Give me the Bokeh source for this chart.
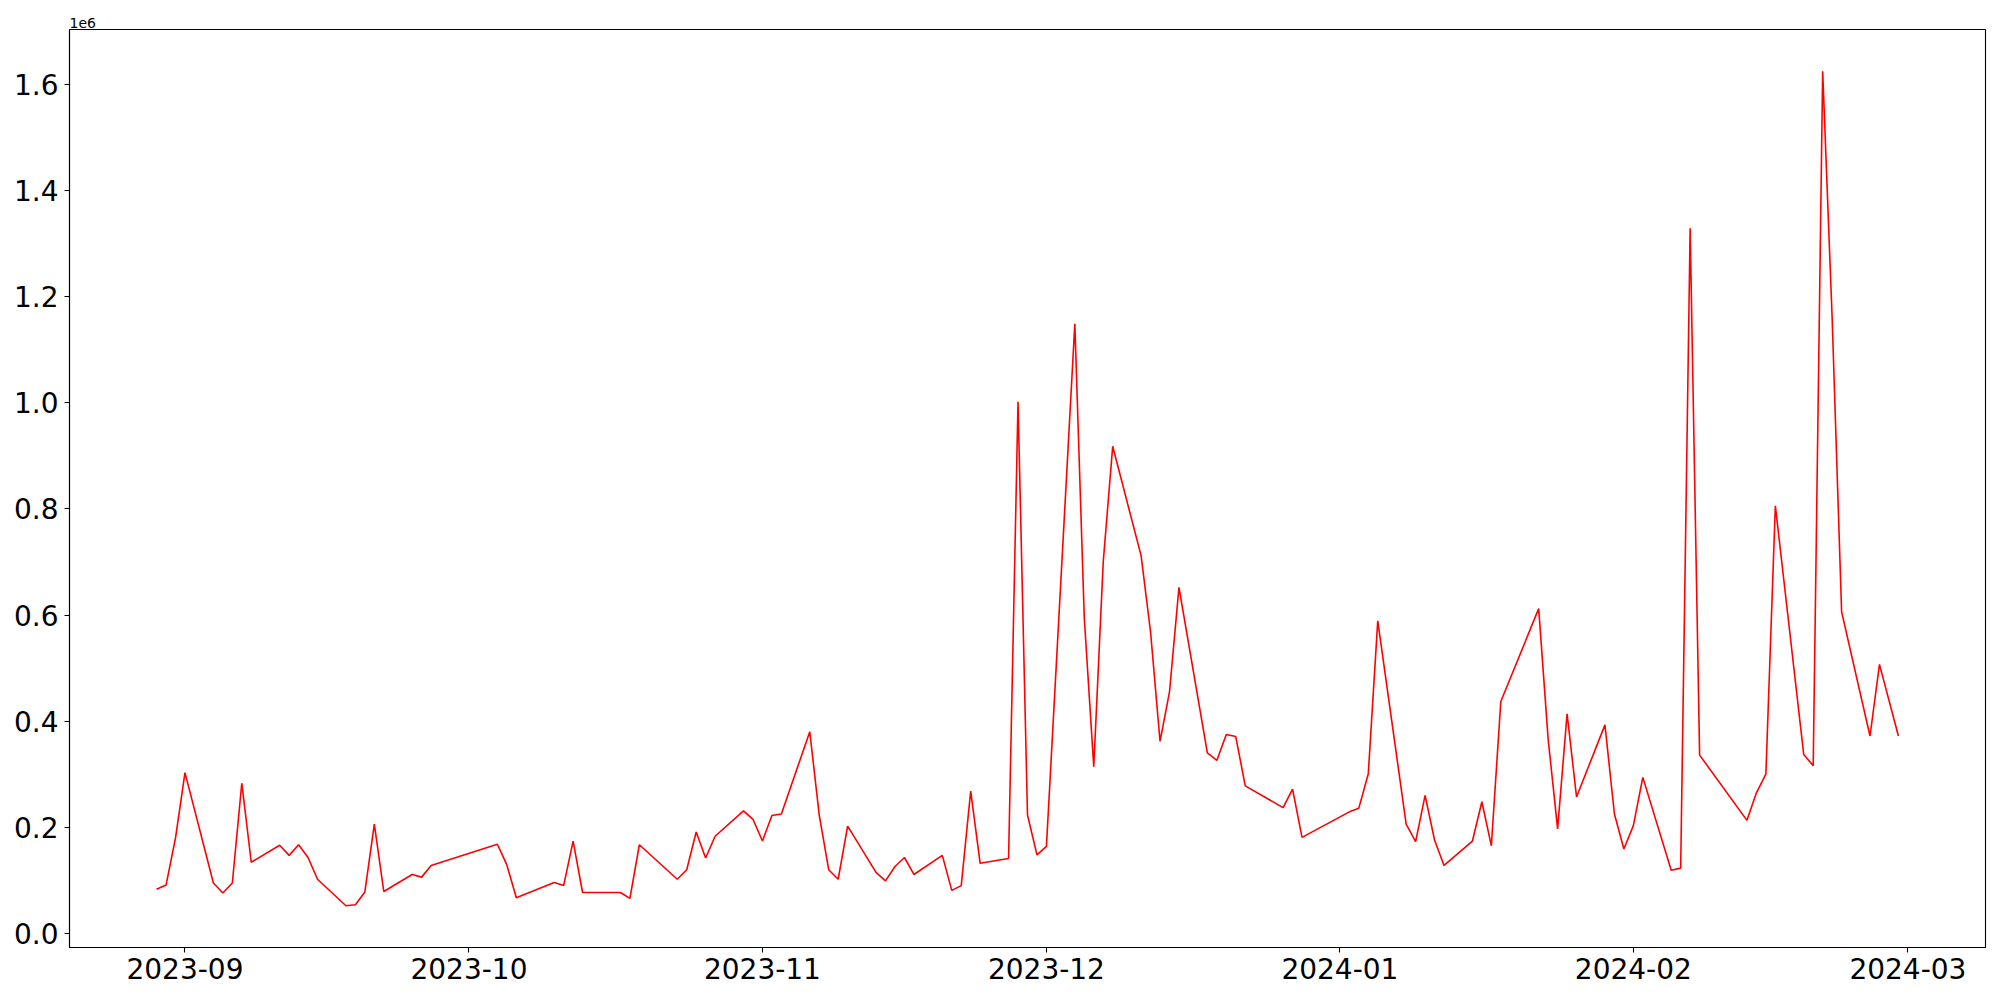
import pandas as pd
from bokeh.plotting import figure
from bokeh.models import FixedTicker, DatetimeTickFormatter, Range1d
from bokeh.embed import file_html
from bokeh.resources import INLINE

dates = [
    "2023-08-29", "2023-08-30", "2023-08-31", "2023-09-01", "2023-09-04", "2023-09-05",
    "2023-09-06", "2023-09-07", "2023-09-08", "2023-09-11", "2023-09-12", "2023-09-13",
    "2023-09-14", "2023-09-15", "2023-09-18", "2023-09-19", "2023-09-20", "2023-09-21",
    "2023-09-22", "2023-09-25", "2023-09-26", "2023-09-27", "2023-10-04", "2023-10-05",
    "2023-10-06", "2023-10-10", "2023-10-11", "2023-10-12", "2023-10-13", "2023-10-17",
    "2023-10-18", "2023-10-19", "2023-10-23", "2023-10-24", "2023-10-25", "2023-10-26",
    "2023-10-27", "2023-10-30", "2023-10-31", "2023-11-01", "2023-11-02", "2023-11-03",
    "2023-11-06", "2023-11-07", "2023-11-08", "2023-11-09", "2023-11-10", "2023-11-13",
    "2023-11-14", "2023-11-15", "2023-11-16", "2023-11-17", "2023-11-20", "2023-11-21",
    "2023-11-22", "2023-11-23", "2023-11-24", "2023-11-27", "2023-11-28", "2023-11-29",
    "2023-11-30", "2023-12-01", "2023-12-04", "2023-12-05", "2023-12-06", "2023-12-07",
    "2023-12-08", "2023-12-11", "2023-12-12", "2023-12-13", "2023-12-14", "2023-12-15",
    "2023-12-18", "2023-12-19", "2023-12-20", "2023-12-21", "2023-12-22", "2023-12-26",
    "2023-12-27", "2023-12-28", "2024-01-02", "2024-01-03", "2024-01-04", "2024-01-05",
    "2024-01-08", "2024-01-09", "2024-01-10", "2024-01-11", "2024-01-12", "2024-01-15",
    "2024-01-16", "2024-01-17", "2024-01-18", "2024-01-22", "2024-01-23", "2024-01-24",
    "2024-01-25", "2024-01-26", "2024-01-29", "2024-01-30", "2024-01-31", "2024-02-01",
    "2024-02-02", "2024-02-05", "2024-02-06", "2024-02-07", "2024-02-08", "2024-02-13",
    "2024-02-14", "2024-02-15", "2024-02-16", "2024-02-19", "2024-02-20", "2024-02-21",
    "2024-02-22", "2024-02-23", "2024-02-26", "2024-02-27", "2024-02-29",
]

volume = [
    83000, 91000, 180000, 303000, 95000, 76000,
    95000, 283000, 134000, 166000, 147000, 167000,
    143000, 102000, 52000, 54000, 78000, 206000,
    79000, 111000, 106000, 128000, 168000, 129000,
    67000, 96000, 90000, 174000, 77000, 77000,
    66000, 167000, 102000, 120000, 191000, 142000,
    183000, 231000, 215000, 174000, 222000, 225000,
    380000, 223000, 120000, 102000, 202000, 115000,
    99000, 126000, 143000, 111000, 147000, 81000,
    90000, 268000, 132000, 141000, 1002000, 223000,
    148000, 164000, 1149000, 594000, 314000, 700000,
    918000, 712000, 568000, 362000, 455000, 652000,
    340000, 326000, 375000, 371000, 278000, 237000,
    272000, 181000, 229000, 236000, 301000, 589000,
    206000, 173000, 260000, 176000, 128000, 174000,
    248000, 165000, 437000, 612000, 366000, 197000,
    414000, 257000, 393000, 225000, 159000, 203000,
    294000, 119000, 123000, 1329000, 336000, 213000,
    265000, 300000, 806000, 337000, 316000, 1625000,
    1160000, 606000, 372000, 507000, 372000,
]

x_tick_labels = ["2023-09", "2023-10", "2023-11", "2023-12", "2024-01", "2024-02", "2024-03"]
y_tick_values = [0, 200000, 400000, 600000, 800000, 1000000, 1200000, 1400000, 1600000]
y_tick_labels = ["0.0", "0.2", "0.4", "0.6", "0.8", "1.0", "1.2", "1.4", "1.6"]
offset_text = "1e6"

x = pd.to_datetime(dates)
ms = (x - pd.Timestamp("1970-01-01")) // pd.Timedelta(milliseconds=1)
xmin, xmax = float(ms.min()), float(ms.max())
xpad = (xmax - xmin) * 0.05
ymin, ymax = min(volume), max(volume)
ypad = (ymax - ymin) * 0.05

p = figure(
    frame_width=1916, frame_height=918,
    x_axis_type="datetime",
    output_backend="svg", toolbar_location=None,
    x_range=Range1d(xmin - xpad, xmax + xpad),
    y_range=Range1d(ymin - ypad, ymax + ypad),
    min_border_left=69, min_border_top=29, min_border_right=14, min_border_bottom=52,
    title=offset_text,
)
p.line(x, volume, line_color="#ff0000", line_width=1.6)

p.title.align = "left"
p.title.text_font = "DejaVu Sans"
p.title.text_font_size = "14px"
p.title.text_font_style = "normal"
p.title.text_color = "black"
p.title.standoff = 3
p.title.offset = 0

tick_ms = [float((pd.Timestamp(t + "-01") - pd.Timestamp("1970-01-01")) / pd.Timedelta(milliseconds=1))
           for t in x_tick_labels]
p.xaxis.ticker = FixedTicker(ticks=tick_ms)
p.xaxis.formatter = DatetimeTickFormatter(months="%Y-%m", days="%Y-%m", years="%Y-%m")
p.yaxis.ticker = FixedTicker(ticks=y_tick_values)
p.yaxis.major_label_overrides = {v: l for v, l in zip(y_tick_values, y_tick_labels)}

p.grid.visible = False
p.outline_line_color = "black"
p.outline_line_width = 1.1
for ax in (p.xaxis, p.yaxis):
    ax.axis_line_color = "black"
    ax.axis_line_width = 1.1
    ax.major_tick_line_color = "black"
    ax.major_tick_line_width = 1.1
    ax.major_tick_out = 5
    ax.major_tick_in = 0
    ax.minor_tick_line_color = None
    ax.major_label_text_font = "DejaVu Sans"
    ax.major_label_text_font_size = "28px"
    ax.major_label_text_color = "black"
p.xaxis.major_label_standoff = 5
p.yaxis.major_label_standoff = 6

p.background_fill_color = "white"
p.border_fill_color = "white"

open("out.html", "w").write(file_html(p, INLINE))
